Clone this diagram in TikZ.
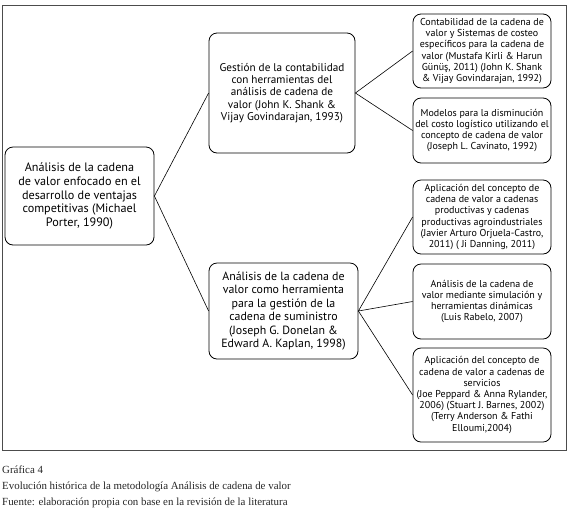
\documentclass[tikz,border=0pt]{standalone}
\usepackage{fontspec}
\setmainfont{Liberation Serif}
\newfontfamily\boxfont{PT Sans}
\begin{document}
\begin{tikzpicture}[x=1pt,y=-1pt,
  box/.style={draw=black, line width=0.8pt, rounded corners=8pt, align=center, inner sep=0pt},
  rbox/.style={box, minimum width=138pt, font=\boxfont\fontsize{10}{11.2}\selectfont},
  link/.style={draw=black, line width=0.6pt},
  captext/.style={anchor=west, inner sep=0pt, font=\fontsize{10.9}{12}\selectfont, text=black!85}]
\useasboundingbox (0,0) rectangle (580,515);
\draw[line width=0.9pt, draw=black!70] (2,5) rectangle (566,450);

\node[box, minimum width=149pt, minimum height=98pt, font=\boxfont\fontsize{12.2}{13.8}\selectfont] (root) at (79.5,196)
  {Análisis de la cadena\\de valor enfocado en el\\desarrollo de ventajas\\competitivas (Michael\\Porter, 1990)};
\node[box, minimum width=146pt, minimum height=120pt, font=\boxfont\fontsize{11.2}{12.4}\selectfont] (ges) at (282,93)
  {Gestión de la contabilidad\\con herramientas del\\análisis de cadena de\\valor (John K. Shank \&\\Vijay Govindarajan, 1993)};
\node[box, minimum width=149pt, minimum height=96pt, font=\boxfont\fontsize{11.9}{13.4}\selectfont] (sum) at (283.5,311)
  {Análisis de la cadena de\\valor como herramienta\\para la gestión de la\\cadena de suministro\\(Joseph G. Donelan \&\\Edward A. Kaplan, 1998)};

\node[rbox, minimum height=74pt] (r1) at (482,51)
  {Contabilidad de la cadena de\\valor y Sistemas de costeo\\específicos para la cadena de\\valor (Mustafa Kirli \& Harun\\Günüş, 2011) (John K. Shank\\\& Vijay Govindarajan, 1992)};
\node[rbox, minimum height=65pt] (r2) at (482,130.5)
  {Modelos para la disminución\\del costo logístico utilizando el\\concepto de cadena de valor\\(Joseph L. Cavinato, 1992)};
\node[rbox, minimum height=74pt] (r3) at (482,217)
  {Aplicación del concepto de\\cadena de valor a cadenas\\productivas y cadenas\\productivas agroindustriales\\(Javier Arturo Orjuela-Castro,\\2011) ( Ji Danning, 2011)};
\node[rbox, minimum height=75pt] (r4) at (482,301.5)
  {Análisis de la cadena de\\valor mediante simulación y\\herramientas dinámicas\\(Luis Rabelo, 2007)};
\node[rbox, minimum height=94pt] (r5) at (482,395)
  {Aplicación del concepto de\\cadena de valor a cadenas de\\servicios\\(Joe Peppard \& Anna Rylander,\\2006) (Stuart J. Barnes, 2002)\\(Terry Anderson \& Fathi\\Elloumi,2004)};

\draw[link] (ges.west) -- (root.east) -- (sum.west);
\draw[link] (r1.west) -- (ges.east) -- (r2.west);
\draw[link] (r3.west) -- (sum.east) -- (r4.west);
\draw[link] (sum.east) -- (r5.west);

\node[captext] (c1) at (2,470) {Gráfica 4};
\node[captext] (c2) at (2,487) {Evolución histórica de la metodología Análisis de cadena de valor};
\node[captext] (c3) at (2,503) {Fuente: elaboración propia con base en la revisión de la literatura};
\end{tikzpicture}
\end{document}
